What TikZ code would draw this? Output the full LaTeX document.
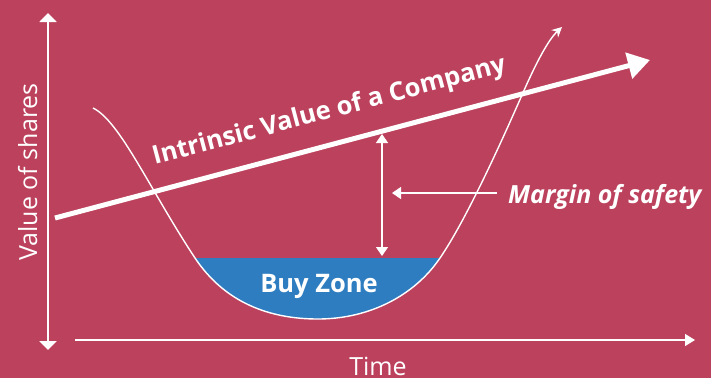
\documentclass[tikz,border=0pt]{standalone}
\usepackage{fontspec}
\setmainfont{Open Sans}
\usetikzlibrary{arrows.meta}
\definecolor{bgrose}{HTML}{BC415C}
\definecolor{zoneblue}{HTML}{2E7DC0}
\def\pricecurve{(93,108) .. controls (120,121) and (150,190) .. (195,258)
  .. controls (225,303) and (270,319) .. (318,319)
  .. controls (370,319) and (415,295) .. (440,258)
  .. controls (466,220) and (500,145) .. (522,95)
  .. controls (535,65) and (548,40) .. (562,27)}

\begin{document}
\begin{tikzpicture}[
x=1pt, y=-1pt,
yaxis/.style={white, line width=2pt, {Triangle[width=17pt,length=9pt]}-{Triangle[width=17pt,length=9pt]}},
xaxis/.style={white, line width=1.3pt, -{Triangle[width=12pt,length=10pt]}},
valueline/.style={white, line width=5pt, -{Triangle[width=26pt,length=22pt]}},
priceline/.style={white, line width=1.4pt, -{Stealth[width=10pt,length=10pt]}},
marginline/.style={white, line width=1.2pt},
label/.style={white, inner sep=0pt, font=\fontsize{25}{30}\selectfont},
]
%Background
\fill[bgrose] (0,0) rectangle (711,378);

%Coordinates
\coordinate (ytop) at (48,13);
\coordinate (ybot) at (48,350);
\coordinate (x0)   at (75,340);
\coordinate (x1)   at (695,340);
\coordinate (iv0)  at (55,218);
\coordinate (iv1)  at (650,60);
\coordinate (mtop) at (382,134);
\coordinate (mbot) at (382,256);
\coordinate (m0)   at (497,193);
\coordinate (m1)   at (392,193);

%Buy zone
\begin{scope}
\clip (0,258) rectangle (711,378);
\fill[zoneblue] \pricecurve -- cycle;
\end{scope}
\draw[priceline] \pricecurve;

%Nodes
\node[label, rotate=90, anchor=base] (vs)   at (37,172)  {Value of shares};
\node[label, anchor=base]            (time) at (378,375) {Time};
\node[label, anchor=base, font=\fontsize{25.5}{30}\selectfont\bfseries] (buy) at (319,292) {Buy Zone};
\node[label, anchor=base west, font=\fontsize{25}{30}\selectfont\bfseries\itshape] (mos) at (508,203) {Margin of safety};

%Lines
\draw[yaxis] (ytop) -- (ybot);
\draw[xaxis] (x0) -- (x1);
\draw[valueline] (iv0) -- node[label, pos=0.475, sloped, above=17pt, font=\fontsize{25.5}{30}\selectfont\bfseries] (ivtext) {Intrinsic Value of a Company} (iv1);
\draw[marginline, {Triangle[width=12pt,length=9pt]}-{Triangle[width=12pt,length=9pt]}] (mtop) -- (mbot);
\draw[marginline, -{Triangle[width=12pt,length=9pt]}] (m0) -- (m1);
\end{tikzpicture}
\end{document}
